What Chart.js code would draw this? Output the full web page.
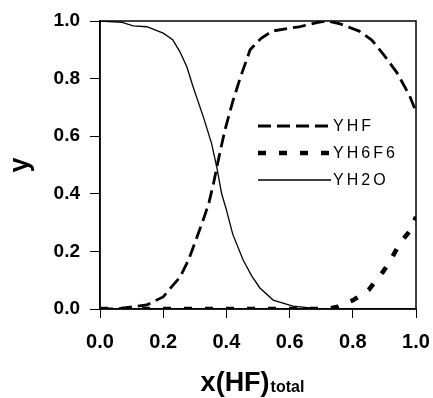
<!DOCTYPE html>
<html>
<head>
<meta charset="utf-8">
<script src="https://cdn.jsdelivr.net/npm/chart.js@4/dist/chart.umd.min.js"></script>
<style>
html,body{margin:0;padding:0;background:#fff;}
#wrap{width:433px;height:398px;}
</style>
</head>
<body>
<div id="wrap"><canvas id="c" width="433" height="398"></canvas></div>
<script>
// ---- data ----
const xTicks = [0.0, 0.2, 0.4, 0.6, 0.8, 1.0];
const yTicks = [0.0, 0.2, 0.4, 0.6, 0.8, 1.0];

const hfX = [0, 0.05, 0.073, 0.1, 0.148, 0.2, 0.225, 0.253, 0.28, 0.307, 0.33, 0.345, 0.36, 0.373, 0.395, 0.42, 0.443, 0.475, 0.51, 0.545, 0.6, 0.63, 0.69, 0.72, 0.76, 0.82, 0.86, 0.9, 0.94, 0.98, 1.0];
const hfY = [0, 0, 0.003, 0.007, 0.014, 0.042, 0.075, 0.11, 0.17, 0.25, 0.32, 0.37, 0.44, 0.51, 0.62, 0.72, 0.80, 0.90, 0.94, 0.965, 0.975, 0.98, 0.995, 1.0, 0.99, 0.965, 0.934, 0.88, 0.82, 0.74, 0.685];

const h6f6X = [0, 0.72, 0.75, 0.8, 0.85, 0.896, 0.917, 0.95, 0.98, 1.0];
const h6f6Y = [0, 0, 0.007, 0.03, 0.066, 0.13, 0.165, 0.23, 0.27, 0.32];

const h2oX = [0, 0.07, 0.105, 0.148, 0.2, 0.23, 0.253, 0.275, 0.295, 0.327, 0.353, 0.37, 0.385, 0.40, 0.42, 0.453, 0.48, 0.506, 0.548, 0.61, 0.68, 0.7, 1.0];
const h2oY = [1.0, 0.995, 0.983, 0.98, 0.958, 0.935, 0.893, 0.84, 0.77, 0.667, 0.575, 0.49, 0.40, 0.344, 0.26, 0.17, 0.115, 0.073, 0.031, 0.01, 0.002, 0, 0];

const seriesLabels = ['YHF', 'YH6F6', 'YH2O'];
const xTitleMain = 'x(HF)';
const xTitleSub = 'total';
const yTitle = 'y';

const pts = (xs, ys) => xs.map((x, i) => ({x: x, y: ys[i]}));

const styles = [
  {borderWidth: 2.8, borderDash: [13, 6]},
  {borderWidth: 4.5, borderDash: [8, 13]},
  {borderWidth: 1.3, borderDash: []}
];

const frame = {
  id: 'frame',
  afterDraw(chart) {
    const {ctx, chartArea: a} = chart;
    ctx.save();
    ctx.strokeStyle = '#000';
    ctx.lineWidth = 1.5;
    ctx.strokeRect(a.left, a.top, a.right - a.left, a.bottom - a.top);
    ctx.restore();
  }
};

const legendPlug = {
  id: 'legendPlug',
  afterDraw(chart) {
    const {ctx, chartArea: a} = chart;
    const ys = [126, 153, 180];
    const x0 = a.left + 158, x1 = a.left + 231;
    ctx.save();
    chart.data.datasets.forEach((ds, i) => {
      const y = ys[i];
      ctx.beginPath();
      ctx.setLineDash(ds.borderDash || []);
      ctx.lineWidth = ds.borderWidth;
      ctx.strokeStyle = '#000';
      ctx.moveTo(x0, y);
      ctx.lineTo(x1, y);
      ctx.stroke();
      ctx.setLineDash([]);
      ctx.fillStyle = '#000';
      ctx.font = '16px "Liberation Sans", Arial, sans-serif';
      ctx.letterSpacing = '3px';
      ctx.textBaseline = 'middle';
      ctx.textAlign = 'left';
      ctx.fillText(ds.label, x1 + 2, y + 1);
    });
    ctx.restore();
  }
};

const xTitlePlug = {
  id: 'xTitlePlug',
  afterDraw(chart) {
    const {ctx, chartArea: a} = chart;
    ctx.save();
    ctx.fillStyle = '#000';
    ctx.textBaseline = 'alphabetic';
    ctx.textAlign = 'left';
    const fMain = 'bold 27px "Liberation Sans", Arial, sans-serif';
    const fSub = 'bold 16px "Liberation Sans", Arial, sans-serif';
    ctx.font = fMain;
    const wM = ctx.measureText(xTitleMain).width;
    ctx.font = fSub;
    const wS = ctx.measureText(xTitleSub).width;
    const cx = (a.left + a.right) / 2 - 6;
    const sx = cx - (wM + wS) / 2;
    const by = a.bottom + 82;
    ctx.font = fMain;
    ctx.fillText(xTitleMain, sx, by);
    ctx.font = fSub;
    ctx.fillText(xTitleSub, sx + wM + 1, by + 1);
    ctx.restore();
  }
};

new Chart(document.getElementById('c'), {
  type: 'line',
  data: {
    datasets: seriesLabels.map((lab, i) => ({
      label: lab,
      data: [pts(hfX, hfY), pts(h6f6X, h6f6Y), pts(h2oX, h2oY)][i],
      borderColor: '#000',
      backgroundColor: '#000',
      borderWidth: styles[i].borderWidth,
      borderDash: styles[i].borderDash,
      pointRadius: 0,
      tension: 0,
      fill: false
    }))
  },
  options: {
    responsive: false,
    animation: false,
    devicePixelRatio: 1,
    layout: {padding: {top: 21, right: 17, left: 0, bottom: 0}},
    plugins: {legend: {display: false}, tooltip: {enabled: false}},
    scales: {
      x: {
        type: 'linear', min: 0, max: 1,
        afterBuildTicks(s) { s.ticks = xTicks.map(v => ({value: v})); },
        afterFit(s) { s.height = 89; s.paddingLeft = 0; s.paddingRight = 0; },
        grid: {drawOnChartArea: false, drawTicks: true, tickLength: 9, color: '#000', lineWidth: 1},
        border: {display: true, color: '#000', width: 1.5},
        ticks: {color: '#000', padding: 12, maxRotation: 0,
          font: {family: '"Liberation Sans", Arial, sans-serif', size: 20, weight: 'bold'},
          callback: v => Number(v).toFixed(1)}
      },
      y: {
        type: 'linear', min: 0, max: 1,
        afterBuildTicks(s) { s.ticks = yTicks.map(v => ({value: v})); },
        afterFit(s) { s.width = 100; s.paddingTop = 0; s.paddingBottom = 0; },
        grid: {drawOnChartArea: false, drawTicks: true, tickLength: 10, color: '#000', lineWidth: 1},
        border: {display: true, color: '#000', width: 1.5},
        ticks: {color: '#000', padding: 10,
          font: {family: '"Liberation Sans", Arial, sans-serif', size: 19, weight: 'bold'},
          callback: v => Number(v).toFixed(1)},
        title: {display: true, text: yTitle, color: '#000', padding: {top: 4, bottom: 0},
          font: {family: '"Liberation Sans", Arial, sans-serif', size: 27, weight: 'bold'}}
      }
    }
  },
  plugins: [frame, legendPlug, xTitlePlug]
});
</script>
</body>
</html>
